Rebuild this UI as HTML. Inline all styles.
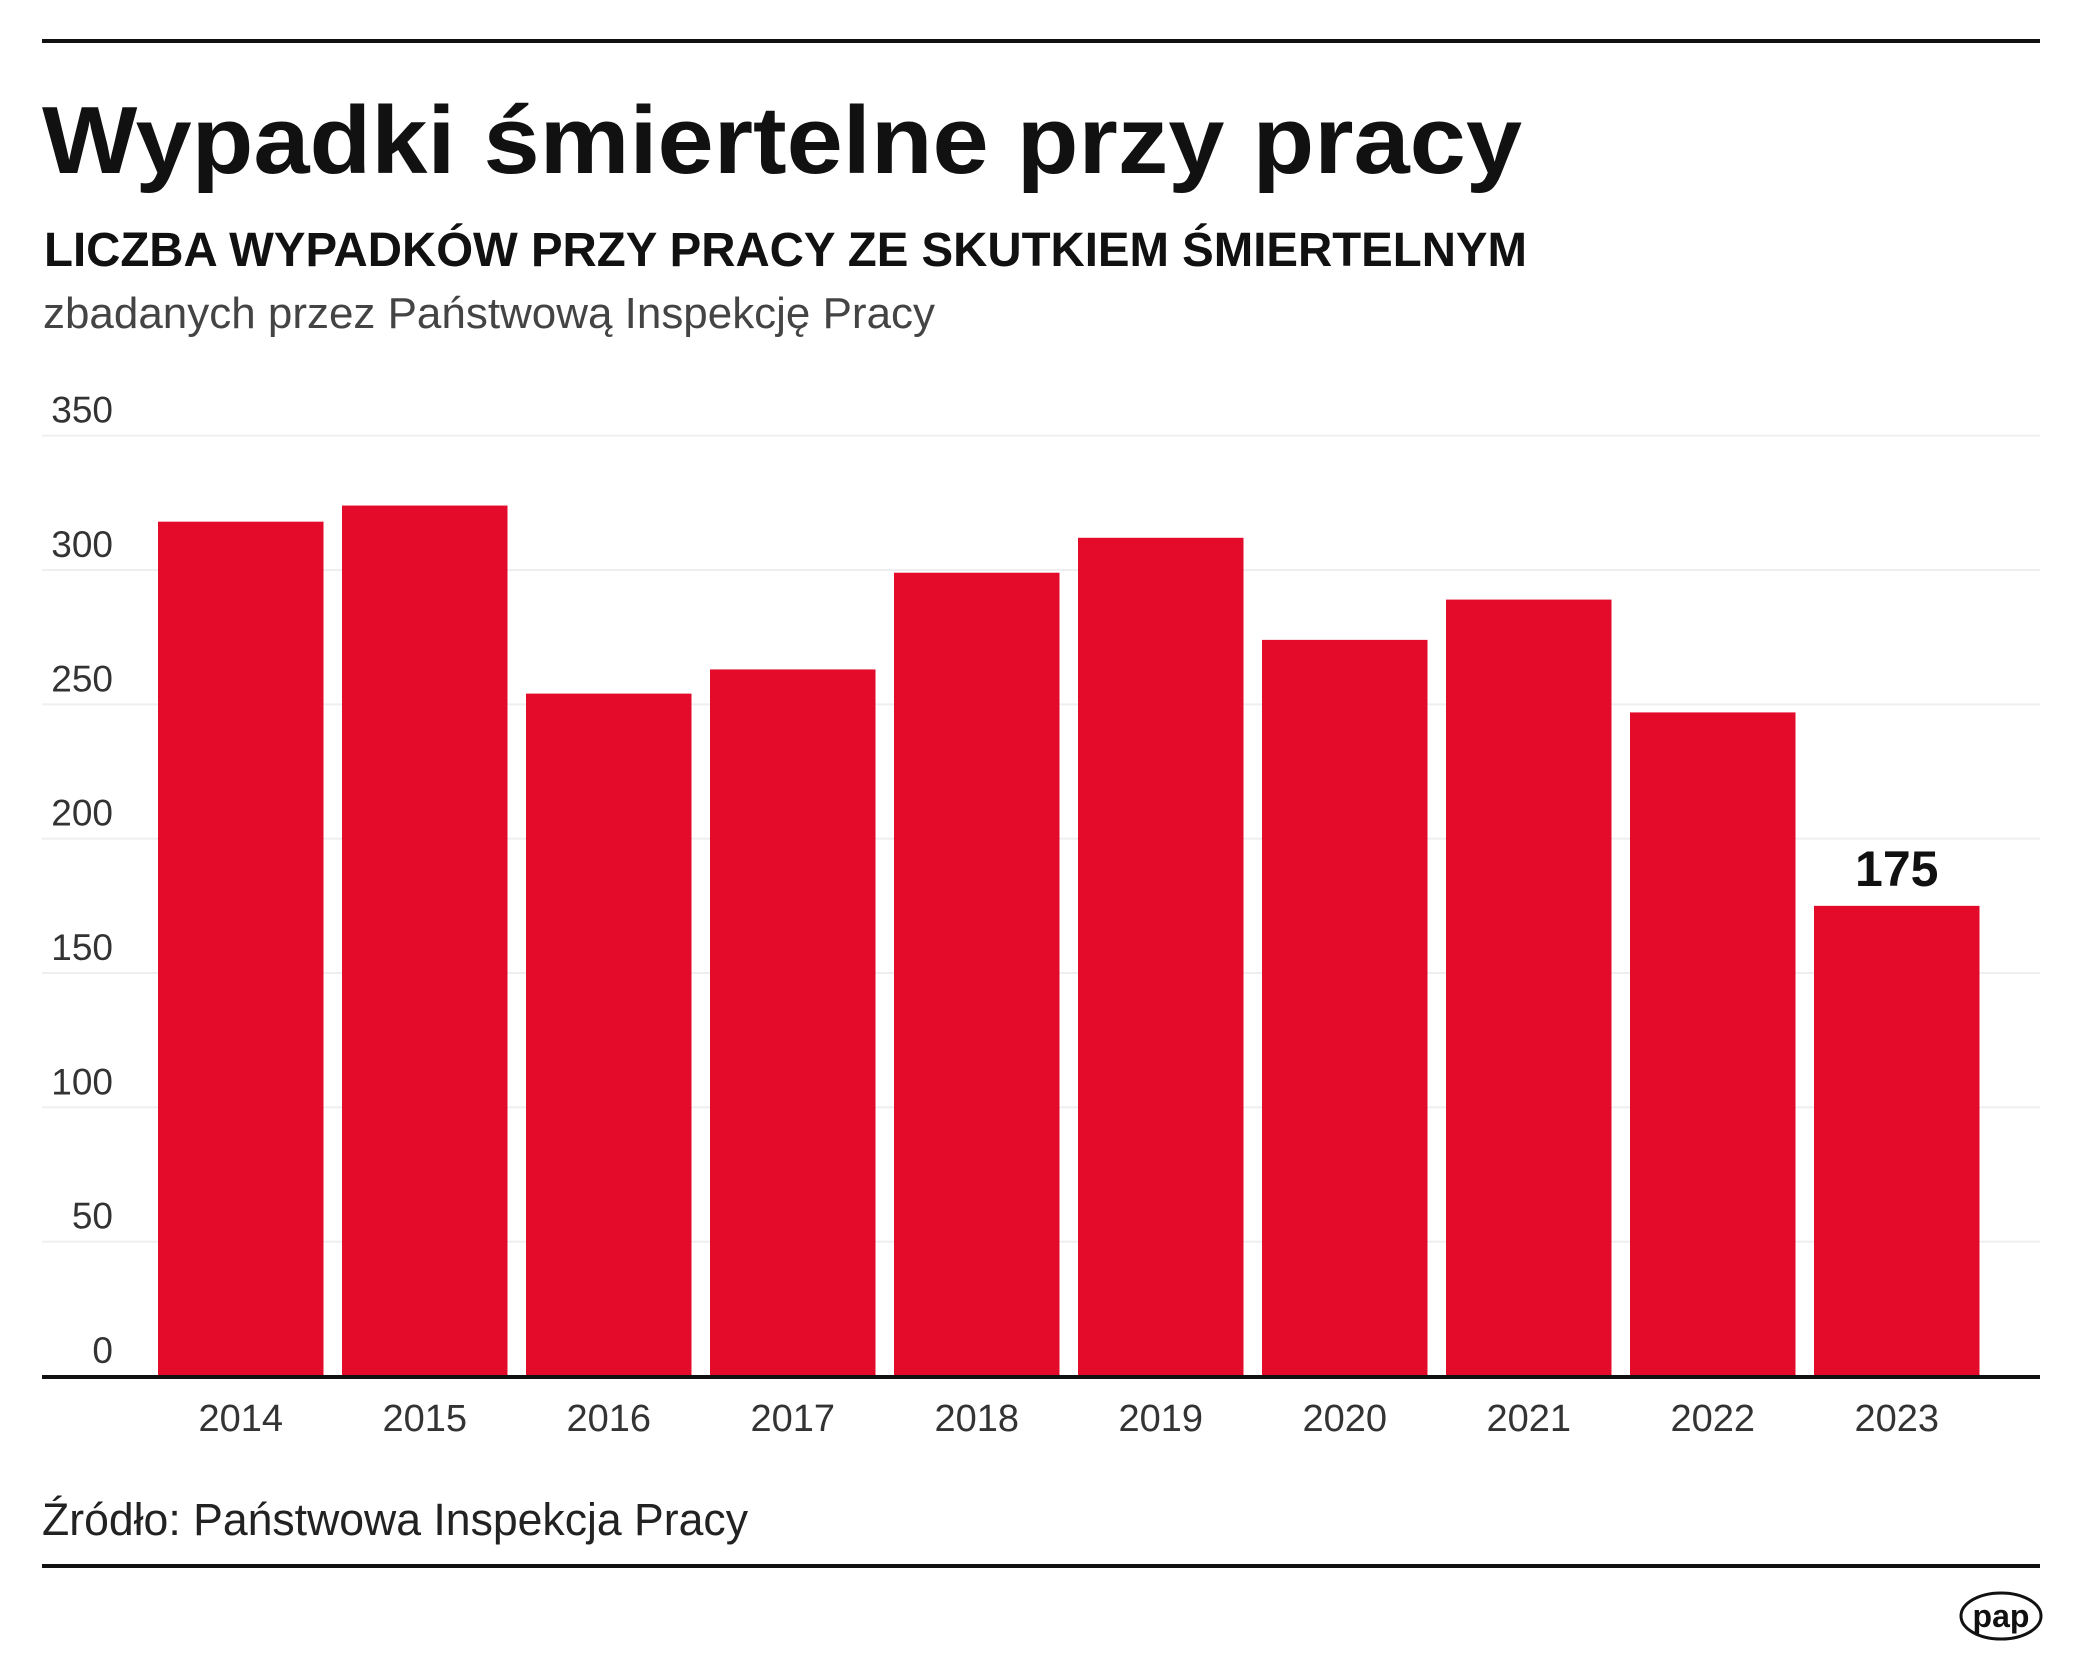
<!DOCTYPE html>
<html><head><meta charset="utf-8"><style>
html,body{margin:0;padding:0;background:#fff}
svg{display:block}
text{font-family:"Liberation Sans",sans-serif}
</style></head><body>
<svg id="chart" width="2084" height="1667" viewBox="0 0 2084 1667" xmlns="http://www.w3.org/2000/svg">
<rect x="42" y="39" width="1998" height="4" fill="#111"/>
<text x="42" y="173" font-size="96" font-weight="bold" fill="#111" textLength="1480" lengthAdjust="spacingAndGlyphs">Wypadki śmiertelne przy pracy</text>
<text x="44" y="266" font-size="48" font-weight="bold" fill="#111" textLength="1483" lengthAdjust="spacingAndGlyphs">LICZBA WYPADKÓW PRZY PRACY ZE SKUTKIEM ŚMIERTELNYM</text>
<text x="43" y="328" font-size="44" fill="#444" textLength="892" lengthAdjust="spacingAndGlyphs">zbadanych przez Państwową Inspekcję Pracy</text>
<g id="grid"></g>
<g id="bars"></g>
<rect x="42" y="1375" width="1998" height="4" fill="#111"/>
<g id="xlabels"></g>
<text x="42" y="1535" font-size="45" fill="#222" textLength="706" lengthAdjust="spacingAndGlyphs">Źródło: Państwowa Inspekcja Pracy</text>
<rect x="42" y="1564" width="1998" height="4" fill="#111"/>
<g>
<ellipse cx="2001" cy="1616" rx="40" ry="23" fill="none" stroke="#111" stroke-width="3"/>
<text x="2001" y="1627" font-size="32" font-weight="bold" text-anchor="middle" fill="#111">pap</text>
</g>
</svg>
<script>
const categories = ["2014","2015","2016","2017","2018","2019","2020","2021","2022","2023"];
const values = [318,324,254,263,299,312,274,289,247,175];
const yTicks = [0,50,100,150,200,250,300,350];
const highlightLabel = "175";

const svg = document.getElementById('chart');
const NS = 'http://www.w3.org/2000/svg';
const y0 = 1376, yMax = 350, plotTop = 435.7;
function yScale(v){ return y0 - (v / yMax) * (y0 - plotTop); }
const barStart = 158, step = 184, barW = 165.5;
function xScale(i){ return barStart + i * step; }

const grid = document.getElementById('grid');
yTicks.forEach(t => {
  const y = yScale(t);
  if (t > 0) {
    const l = document.createElementNS(NS, 'rect');
    l.setAttribute('x', 42); l.setAttribute('y', y - 1); l.setAttribute('width', 1998); l.setAttribute('height', 2);
    l.setAttribute('fill', '#eeeff1');
    
    
    grid.appendChild(l);
  }
  const tx = document.createElementNS(NS, 'text');
  tx.setAttribute('x', 113); tx.setAttribute('y', y - 13);
  tx.setAttribute('text-anchor', 'end'); tx.setAttribute('font-size', '37'); tx.setAttribute('fill', '#333');
  tx.textContent = t;
  
  
  grid.appendChild(tx);
});

const bars = document.getElementById('bars');
const xl = document.getElementById('xlabels');
categories.forEach((c, i) => {
  const x = xScale(i), y = yScale(values[i]);
  const r = document.createElementNS(NS, 'rect');
  r.setAttribute('x', x); r.setAttribute('y', y); r.setAttribute('width', barW); r.setAttribute('height', y0 - y);
  r.setAttribute('fill', '#e30a2a');
  
  
  bars.appendChild(r);
  const t = document.createElementNS(NS, 'text');
  t.setAttribute('x', x + barW / 2); t.setAttribute('y', 1431);
  t.setAttribute('text-anchor', 'middle'); t.setAttribute('font-size', '38'); t.setAttribute('fill', '#333');
  t.textContent = c;
  
  
  xl.appendChild(t);
  if (i === categories.length - 1) {
    const v = document.createElementNS(NS, 'text');
    v.setAttribute('x', x + barW / 2); v.setAttribute('y', y - 20);
    v.setAttribute('text-anchor', 'middle'); v.setAttribute('font-size', '50'); v.setAttribute('font-weight', 'bold'); v.setAttribute('fill', '#111');
    v.textContent = highlightLabel;
    
    
    bars.appendChild(v);
  }
});
</script>
</body></html>
